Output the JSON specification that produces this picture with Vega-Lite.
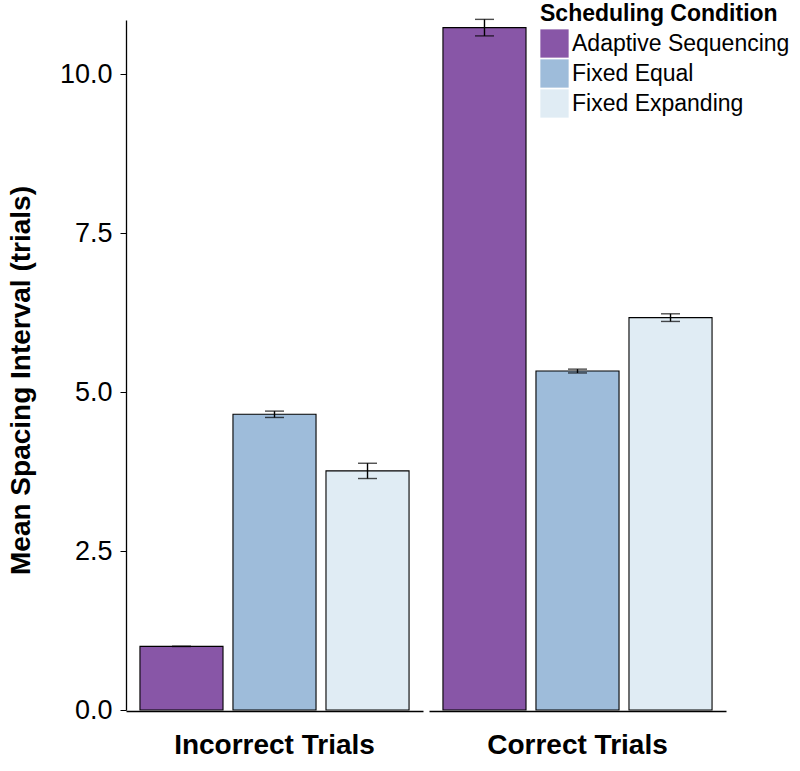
{
  "$schema": "https://vega.github.io/schema/vega-lite/v6.json",
  "padding": {"left": 7, "top": 3, "right": 5, "bottom": 0},
  "config": {
    "font": "Liberation Sans",
    "view": {"stroke": null},
    "axis": {"grid": false}
  },
  "data": {
    "values": [
      {"trial": "Incorrect Trials", "condition": "Adaptive Sequencing", "mean": 1.0, "lo": 1.0, "hi": 1.0},
      {"trial": "Incorrect Trials", "condition": "Fixed Equal", "mean": 4.65, "lo": 4.6, "hi": 4.7},
      {"trial": "Incorrect Trials", "condition": "Fixed Expanding", "mean": 3.76, "lo": 3.64, "hi": 3.88},
      {"trial": "Correct Trials", "condition": "Adaptive Sequencing", "mean": 10.73, "lo": 10.6, "hi": 10.86},
      {"trial": "Correct Trials", "condition": "Fixed Equal", "mean": 5.33, "lo": 5.3, "hi": 5.36},
      {"trial": "Correct Trials", "condition": "Fixed Expanding", "mean": 6.17, "lo": 6.11, "hi": 6.23}
    ]
  },
  "facet": {
    "column": {
      "field": "trial",
      "type": "nominal",
      "sort": ["Incorrect Trials", "Correct Trials"],
      "header": {
        "title": null,
        "labelOrient": "bottom",
        "labelFontSize": 28,
        "labelFontWeight": "bold",
        "labelColor": "black",
        "labelPadding": 21
      }
    }
  },
  "spacing": 6,
  "spec": {
    "width": 297,
    "height": 690,
    "encoding": {
      "x": {
        "field": "condition",
        "type": "nominal",
        "sort": ["Adaptive Sequencing", "Fixed Equal", "Fixed Expanding"],
        "scale": {"paddingInner": 0.107, "paddingOuter": 0.15},
        "axis": {"title": null, "labels": false, "ticks": false, "domainColor": "black", "domainWidth": 1.3}
      }
    },
    "layer": [
      {
        "mark": {"type": "bar", "stroke": "black", "strokeWidth": 1.1},
        "encoding": {
          "y": {
            "field": "mean",
            "type": "quantitative",
            "scale": {"domain": [0, 10.85], "nice": false, "padding": 0},
            "axis": {
              "title": "Mean Spacing Interval (trials)",
              "titleFontSize": 28,
              "titleFontWeight": "bold",
              "titleColor": "black",
              "titleY": 360,
              "labelFontSize": 27,
              "labelColor": "black",
              "labelPadding": 8,
              "values": [0, 2.5, 5, 7.5, 10],
              "format": ".1f",
              "tickColor": "black",
              "tickSize": 6,
              "domainColor": "black",
              "domainWidth": 1.3,
              "titlePadding": 24
            }
          },
          "color": {
            "field": "condition",
            "type": "nominal",
            "scale": {"domain": ["Adaptive Sequencing", "Fixed Equal", "Fixed Expanding"], "range": ["#8856a7", "#9ebcda", "#e0ecf4"]},
            "legend": {
              "title": "Scheduling Condition",
              "orient": "none",
              "legendX": 414,
              "legendY": -17,
              "padding": 0,
              "titleFontSize": 23,
              "titleFontWeight": "bold",
              "titleColor": "black",
              "titleLimit": 0,
              "labelLimit": 0,
              "labelFontSize": 23,
              "labelColor": "black",
              "symbolType": "square",
              "symbolSize": 800,
              "symbolStrokeWidth": 0,
              "rowPadding": 1,
              "labelOffset": 3,
              "titlePadding": 3
            }
          }
        }
      },
      {
        "mark": {"type": "rule", "color": "black", "strokeWidth": 1.4},
        "encoding": {
          "y": {"field": "lo", "type": "quantitative"},
          "y2": {"field": "hi"}
        }
      },
      {
        "mark": {"type": "tick", "color": "black", "thickness": 1.4, "size": 19},
        "encoding": {"y": {"field": "lo", "type": "quantitative"}}
      },
      {
        "mark": {"type": "tick", "color": "black", "thickness": 1.4, "size": 19},
        "encoding": {"y": {"field": "hi", "type": "quantitative"}}
      }
    ]
  }
}
